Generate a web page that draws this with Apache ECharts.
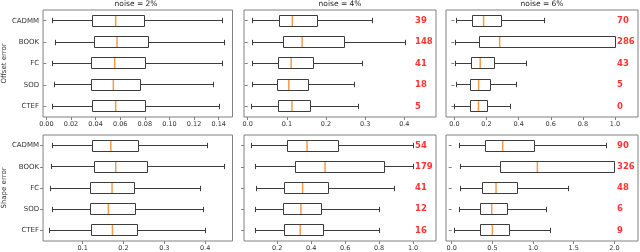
<!DOCTYPE html>
<html>
<head>
<meta charset="utf-8">
<script src="https://cdn.jsdelivr.net/npm/echarts@6/dist/echarts.min.js"></script>
<style>html,body{margin:0;padding:0;background:#fff}#c{width:640px;height:252px}</style>
</head>
<body>
<div id="c"></div>
<script>
// ---- data ----
const categories = ['CADMM', 'BOOK', 'FC', 'SOD', 'CTEF'];
const titles = ['noise = 2%', 'noise = 4%', 'noise = 6%'];
const rowNames = ['Offset error', 'Shape error'];
// each row: [min whisker, Q1, median, Q3, max whisker]
const offset2 = [[0.0050,0.0377,0.0563,0.0797,0.1427],[0.0077,0.0390,0.0574,0.0829,0.1445],[0.0053,0.0367,0.0555,0.0802,0.1429],[0.0064,0.0369,0.0544,0.0765,0.1357],[0.0050,0.0371,0.0563,0.0802,0.1405]];
const offset4 = [[0.011,0.081,0.114,0.177,0.319],[0.011,0.092,0.139,0.246,0.404],[0.011,0.079,0.111,0.167,0.294],[0.011,0.077,0.105,0.156,0.274],[0.010,0.079,0.113,0.161,0.283]];
const offset6 = [[0.0145,0.114,0.182,0.296,0.56],[0.006,0.155,0.282,1.0,1.0],[0.006,0.108,0.161,0.248,0.45],[0.015,0.099,0.151,0.224,0.385],[0.004,0.102,0.150,0.208,0.351]];
const shape2 = [[0.027,0.124,0.169,0.238,0.405],[0.023,0.128,0.181,0.260,0.447],[0.021,0.120,0.172,0.228,0.389],[0.027,0.120,0.163,0.230,0.395],[0.020,0.121,0.173,0.234,0.401]];
const shape4 = [[0.052,0.260,0.376,0.562,1.0],[0.072,0.306,0.482,0.830,1.0],[0.076,0.242,0.350,0.502,0.89],[0.072,0.236,0.340,0.462,0.80],[0.072,0.242,0.336,0.470,0.80]];
const shape6 = [[0.09,0.41,0.627,1.012,1.906],[0.11,0.602,1.053,2.0,2.0],[0.11,0.377,0.545,0.807,1.434],[0.10,0.357,0.492,0.684,1.17],[0.033,0.357,0.50,0.705,1.209]];
const offsetCounts4 = [39, 148, 41, 18, 5];
const offsetCounts6 = [70, 286, 43, 5, 0];
const shapeCounts4 = [54, 179, 41, 12, 16];
const shapeCounts6 = [90, 326, 48, 6, 9];
const ticks1 = [0, 0.02, 0.04, 0.06, 0.08, 0.10, 0.12, 0.14];
const ticks2 = [0, 0.1, 0.2, 0.3, 0.4];
const ticks3 = [0, 0.2, 0.4, 0.6, 0.8, 1.0];
const ticks4 = [0.1, 0.2, 0.3, 0.4];
const ticks5 = [0.2, 0.4, 0.6, 0.8, 1.0];
const ticks6 = [0, 0.5, 1.0, 1.5, 2.0];

// ---- layout ----
const FONT = 'DejaVu Sans';
const FRAME = '#808080';
const BOXC = '#3c3c3c';
const MEDC = '#f79a4a';
const cols = [{left: 39.5, width: 193}, {left: 244, width: 192}, {left: 446, width: 192}];
const rows = [{top: 10, height: 107}, {top: 135, height: 107}];
const panels = [
  {data: offset2, ticks: ticks1, dec: 2, min: -0.0027, max: 0.1512, counts: null},
  {data: offset4, ticks: ticks2, dec: 1, min: -0.0095, max: 0.481, counts: offsetCounts4},
  {data: offset6, ticks: ticks3, dec: 1, min: -0.052, max: 1.143, counts: offsetCounts6},
  {data: shape2, ticks: ticks4, dec: 1, min: 0.003, max: 0.467, counts: null},
  {data: shape4, ticks: ticks5, dec: 1, min: 0.005, max: 1.135, counts: shapeCounts4},
  {data: shape6, ticks: ticks6, dec: 1, min: -0.07, max: 2.29, counts: shapeCounts6}
];

function crisp(v) { return Math.round(v - 0.5) + 0.5; }

function renderBox(params, api) {
  const cat = api.value(0);
  const p = [1, 2, 3, 4, 5].map(i => api.coord([api.value(i), cat]));
  const cy = p[0][1];
  const band = api.size([0, 1])[1];
  const hb = band * 0.26;
  const hc = band * 0.125;
  const x = p.map(q => crisp(q[0]));
  const y = crisp(cy);
  const ls = {stroke: BOXC, lineWidth: 1, fill: null};
  const top = crisp(cy - hb), h = Math.round(2 * hb);
  return {
    type: 'group',
    children: [
      {type: 'line', shape: {x1: x[0], y1: y, x2: x[1], y2: y}, style: ls},
      {type: 'line', shape: {x1: x[3], y1: y, x2: x[4], y2: y}, style: ls},
      {type: 'line', shape: {x1: x[0], y1: y - hc, x2: x[0], y2: y + hc}, style: ls},
      {type: 'line', shape: {x1: x[4], y1: y - hc, x2: x[4], y2: y + hc}, style: ls},
      {type: 'rect', shape: {x: x[1], y: top, width: x[3] - x[1], height: h},
        style: {fill: '#ffffff', stroke: BOXC, lineWidth: 1}},
      {type: 'line', shape: {x1: p[2][0], y1: top + 0.5, x2: p[2][0], y2: top + h - 0.5},
        style: {stroke: MEDC, lineWidth: 1.5}}
    ]
  };
}

const grid = [], xAxis = [], yAxis = [], series = [], title = [];
panels.forEach((pn, i) => {
  const c = cols[i % 3], r = rows[Math.floor(i / 3)];
  grid.push({left: c.left, top: r.top, width: c.width, height: r.height, show: true,
    borderColor: FRAME, borderWidth: 1, backgroundColor: 'transparent', containLabel: false});
  xAxis.push({
    type: 'value', gridIndex: i, min: pn.min, max: pn.max,
    splitLine: {show: false}, axisLine: {show: false},
    axisTick: {show: true, length: 3, lineStyle: {color: FRAME}, customValues: pn.ticks},
    axisLabel: {show: true, fontFamily: FONT, fontSize: 6.5, color: '#333', margin: 4,
      customValues: pn.ticks, formatter: v => Number(v).toFixed(pn.dec)}
  });
  yAxis.push({
    type: 'category', gridIndex: i, data: categories, inverse: true,
    axisLine: {show: false}, splitLine: {show: false},
    axisTick: {show: true, length: 3, alignWithLabel: true, lineStyle: {color: FRAME}},
    axisLabel: {show: i % 3 === 0, fontFamily: FONT, fontSize: 7, color: '#333', margin: 4},
    name: i % 3 === 0 ? rowNames[Math.floor(i / 3)] : '',
    nameLocation: 'middle', nameRotate: 90, nameGap: 30,
    nameTextStyle: {fontFamily: FONT, fontSize: 7, color: '#333'}
  });
  series.push({
    type: 'custom', xAxisIndex: i, yAxisIndex: i,
    data: pn.data.map((d, k) => [k, d[0], d[1], d[2], d[3], d[4]]),
    encode: {x: [1, 2, 3, 4, 5], y: 0},
    renderItem: renderBox, silent: true, animation: false
  });
  if (pn.counts) {
    series.push({
      type: 'scatter', xAxisIndex: i, yAxisIndex: i, symbolSize: 0, silent: true, animation: false,
      data: pn.counts.map((n, k) => [pn.max, k, n]),
      label: {show: true, position: 'inside', align: 'left', verticalAlign: 'middle', offset: [-21, 0],
        formatter: p => String(p.value[2]), color: '#ff0000', fontWeight: 'bold', fontSize: 8.5, fontFamily: FONT}
    });
  }
  if (i < 3) {
    title.push({text: titles[i], left: c.left + c.width / 2, top: 0, textAlign: 'center',
      textStyle: {fontFamily: FONT, fontSize: 7.5, fontWeight: 'normal', color: '#222'}, padding: 0});
  }
});

const chart = echarts.init(document.getElementById('c'), null, {renderer: 'canvas'});
chart.setOption({animation: false, title, grid, xAxis, yAxis, series});
</script>
</body>
</html>
